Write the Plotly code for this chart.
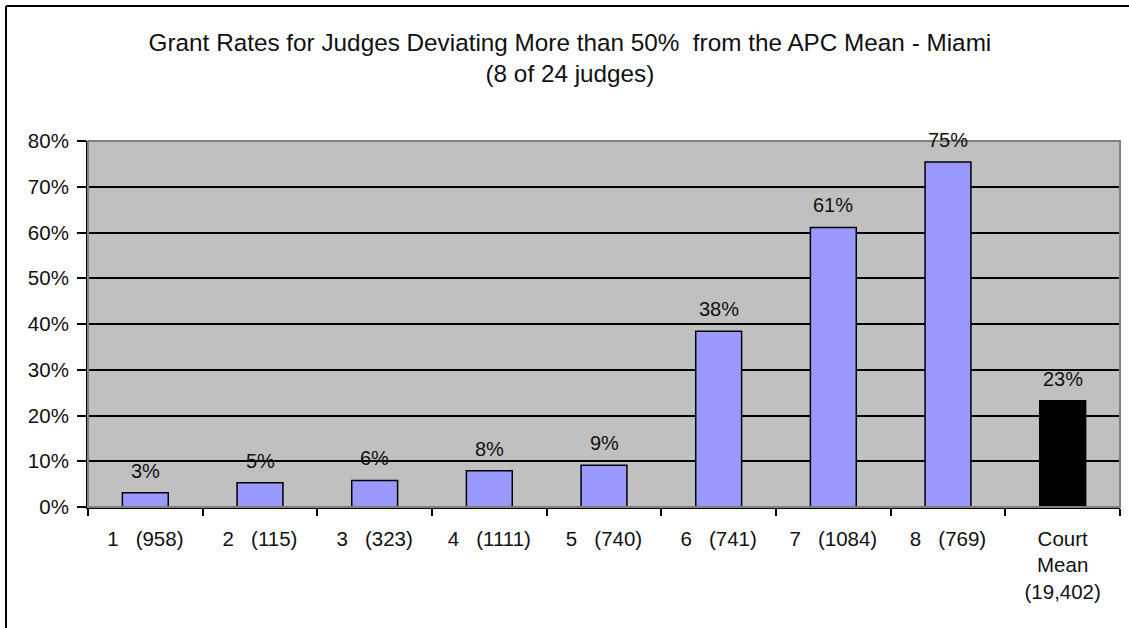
import plotly.graph_objects as go

# ── data ──────────────────────────────────────────────
JUDGES = ["1", "2", "3", "4", "5", "6", "7", "8", "Court Mean"]
CASES = ["958", "115", "323", "1111", "740", "741", "1084", "769", "19,402"]
GRANT_RATE = [3.1, 5.3, 5.8, 7.9, 9.1, 38.4, 61.1, 75.4, 23.2]   # percent
BAR_COLORS = ["#9999ff"] * 8 + ["#000000"]

NB = "\u00a0"
tick_text = [f"{j}{NB*3}({c})" for j, c in zip(JUDGES[:-1], CASES[:-1])]
tick_text.append(f"Court<br>Mean<br>({CASES[-1]})")

FONT = "Liberation Sans, Arial, sans-serif"
INK = "#111111"

fig = go.Figure()
fig.add_trace(go.Bar(
    x=JUDGES, y=GRANT_RATE,
    marker=dict(color=BAR_COLORS, line=dict(color="#000000", width=1.5)),
    hoverinfo="skip",
))

# value labels above the bars (x by category index)
for i, v in enumerate(GRANT_RATE):
    fig.add_annotation(
        x=i, y=v, text=f"{v:.0f}%", showarrow=False,
        yanchor="middle", yshift=22,
        font=dict(family=FONT, size=20, color=INK),
    )

# outer chart border: only its top and left edges fall inside the page
BX, BY = -82 / 1032, 501 / 366
fig.add_shape(type="line", xref="paper", yref="paper",
              x0=BX, x1=1.05, y0=BY, y1=BY,
              line=dict(color="#000000", width=2), layer="below")
fig.add_shape(type="line", xref="paper", yref="paper",
              x0=BX, x1=BX, y0=-0.4, y1=BY,
              line=dict(color="#000000", width=2), layer="below")
# plot-area frame (grey top/right)
fig.add_shape(type="rect", xref="paper", yref="paper",
              x0=0, x1=1, y0=0, y1=1,
              line=dict(color="#808080", width=2), layer="above")

fig.update_layout(
    title=dict(
        text="Grant Rates for Judges Deviating More than 50%  from the APC Mean - Miami"
             "<br>(8 of 24 judges)",
        font=dict(family=FONT, size=24.3, color=INK),
        xref="paper", x=0.467, xanchor="center",
        yref="container", y=0.919, yanchor="top",
    ),
    width=1129, height=628,
    paper_bgcolor="#ffffff", plot_bgcolor="#c0c0c0",
    margin=dict(l=88, r=9, t=141, b=121),
    bargap=0.6,
    showlegend=False,
    font=dict(family=FONT, size=20, color=INK),
)

fig.update_xaxes(
    type="category", tickvals=JUDGES, ticktext=tick_text,
    tickson="boundaries", ticks="outside", ticklen=7, tickwidth=2,
    tickcolor="#000000", ticklabelstandoff=12,
    showline=True, linecolor="#000000", linewidth=2,
    showgrid=False, tickfont=dict(family=FONT, size=20.5, color=INK),
)
fig.update_yaxes(
    range=[0, 80], dtick=10, ticksuffix="%",
    ticks="outside", ticklen=9, tickwidth=2, tickcolor="#000000",
    ticklabelstandoff=4,
    showline=True, linecolor="#000000", linewidth=2,
    showgrid=True, gridcolor="#000000", gridwidth=1.5, zeroline=False,
    tickfont=dict(family=FONT, size=20.5, color=INK),
)

# drop the default 8px page margin so the figure fills the window exactly
fig.write_html(
    "out.html",
    config={"displayModeBar": False},
    post_script="document.body.style.margin='0';document.body.style.overflow='hidden';",
)
